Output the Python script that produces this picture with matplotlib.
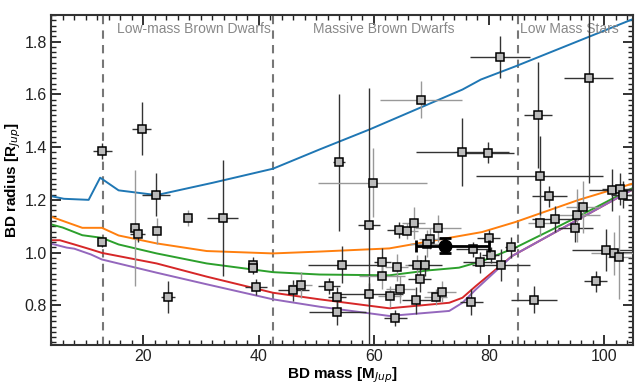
import numpy as np
import matplotlib
matplotlib.use("Agg")
import matplotlib.pyplot as plt
from matplotlib.ticker import MultipleLocator

plt.rcParams['font.family'] = ['Liberation Sans', 'DejaVu Sans']

# model isochrones (mass in M_Jup, radius in R_Jup)
blue_m = [4, 6.2, 10.5, 12.5, 15.7, 22.3, 32.1, 42.5, 50.6, 59.3, 75.4, 78.6, 84.6, 105]
blue_r = [1.214, 1.204, 1.20, 1.284, 1.236, 1.218, 1.265, 1.318, 1.391, 1.467, 1.618, 1.656, 1.706, 1.885]

orange_m = [4, 9.4, 12.8, 15.7, 22.3, 31.0, 42.5, 50.6, 62.7, 78.8, 84.6, 95.6, 105]
orange_r = [1.136, 1.094, 1.094, 1.065, 1.035, 1.006, 0.997, 1.004, 1.016, 1.078, 1.116, 1.20, 1.262]

green_m = [4, 6, 9.4, 12.8, 15.7, 22.3, 31.0, 42.5, 50.6, 62.7, 69.6, 74.8, 78.8, 84.6, 91.0, 95.6, 105]
green_r = [1.107, 1.095, 1.066, 1.056, 1.031, 0.997, 0.959, 0.926, 0.917, 0.914, 0.933, 0.943, 0.968, 1.019, 1.088, 1.138, 1.245]

red_m = [4, 5.5, 8, 10.9, 12.8, 22.3, 31.0, 42.5, 50.6, 62.7, 73.1, 75.4, 77.7, 84.0, 105]
red_r = [1.047, 1.047, 1.031, 1.012, 0.999, 0.959, 0.909, 0.848, 0.823, 0.789, 0.81, 0.829, 0.873, 0.987, 1.24]

purple_m = [4, 6.7, 8, 10.9, 12.8, 22.3, 31.0, 42.5, 50.6, 62.7, 73.1, 75.4, 77.7, 84.0, 105]
purple_r = [1.034, 1.019, 1.015, 0.993, 0.974, 0.924, 0.88, 0.823, 0.795, 0.76, 0.779, 0.81, 0.86, 0.987, 1.24]

# known transiting brown dwarfs / low-mass stars: mass, radius, errors, error-bar shade
bd_mass = [12.9, 19.7, 22.2, 18.5, 19.0, 12.9, 22.3, 24.3, 27.8, 33.8,
           39.1, 39.1, 39.6, 46.0, 47.3, 52.3, 53.6, 53.7, 54.5, 54.0,
           59.1, 59.8, 61.5, 61.5, 64.0, 64.3, 65.7, 66.9, 67.5, 68.9,
           68.0, 64.6, 62.8, 59.1, 67.4, 70.8, 71.8, 63.7, 69.8, 69.3,
           71.2, 77.3, 78.5, 80.0, 80.3, 82.1, 76.9, 83.8, 87.8, 88.8,
           91.4, 90.5, 95.0, 95.3, 96.3, 98.5, 100.4, 101.7, 102.6, 101.3,
           102.7, 103.2, 68.2, 75.4, 79.8, 81.9, 88.5, 88.8, 97.3]
bd_rad = [1.384, 1.470, 1.220, 1.092, 1.069, 1.041, 1.081, 0.833, 1.130, 1.130,
          0.955, 0.940, 0.869, 0.858, 0.877, 0.874, 0.830, 0.776, 0.955, 1.343,
          1.103, 1.265, 0.966, 0.911, 0.944, 1.085, 1.081, 1.112, 0.952, 0.952,
          0.899, 0.861, 0.835, 0.845, 0.819, 0.833, 0.852, 0.753, 1.053, 1.034,
          1.092, 1.012, 0.964, 1.054, 0.990, 0.952, 0.813, 1.021, 0.822, 1.113,
          1.127, 1.213, 1.092, 1.142, 1.173, 0.892, 1.010, 0.997, 0.983, 1.236,
          1.242, 1.220, 1.580, 1.381, 1.378, 1.742, 1.521, 1.292, 1.662]
bd_merr = [1.7, 1.6, 2.5, 0.8, 1.3, 0.5, 0.5, 1.2, 0.6, 2.7,
           0.5, 0.5, 1.9, 2.7, 2.0, 1.9, 1.5, 5.0, 6.0, 1.0,
           1.9, 9.4, 1.5, 4.0, 2.0, 2.0, 2.0, 2.0, 2.0, 3.0,
           2.0, 2.5, 2.0, 6.0, 2.5, 2.0, 2.5, 2.0, 2.0, 3.0,
           4.0, 3.0, 3.0, 2.0, 1.5, 5.0, 2.0, 1.0, 4.0, 2.0,
           4.0, 3.0, 3.0, 4.0, 3.0, 2.0, 6.0, 4.0, 2.0, 4.0,
           3.0, 2.0, 7.2, 8.0, 4.5, 5.2, 2.4, 11.0, 4.3]
bd_rerr = [0.03, 0.10, 0.08, 0.22, 0.03, 0.02, 0.05, 0.06, 0.03, 0.22,
           0.03, 0.02, 0.03, 0.04, 0.05, 0.03, 0.04, 0.05, 0.07, 0.26,
           0.52, 0.13, 0.05, 0.05, 0.05, 0.03, 0.03, 0.06, 0.04, 0.04,
           0.05, 0.05, 0.04, 0.04, 0.05, 0.03, 0.04, 0.03, 0.04, 0.05,
           0.05, 0.03, 0.04, 0.03, 0.03, 0.06, 0.05, 0.04, 0.05, 0.05,
           0.05, 0.04, 0.05, 0.10, 0.10, 0.04, 0.08, 0.08, 0.16, 0.08,
           0.06, 0.05, 0.07, 0.13, 0.04, 0.08, 0.20, 0.15, 0.40]
bd_shade = list("kkkgkkgkgk"
                "kkkkgkkkkk"
                "kgkggkgggk"
                "kggkkggkgg"
                "gkkkkkkkkg"
                "kkkggkkggk"
                "kkgkkkkkk")

# highlighted object
new_mass, new_rad = 72.4, 1.027
new_merr = [[5.1], [7.6]]
new_rerr = 0.03

# region boundaries and labels
bounds = [13, 42.5, 85]
region_x = [28.8, 61.8, 94.0]
region_txt = ["Low-mass Brown Dwarfs", "Massive Brown Dwarfs", "Low Mass Stars"]

fig = plt.figure(figsize=(6.4, 3.84), dpi=100)
ax = fig.add_axes([0.08, 0.1016, 0.909, 0.859])

for b in bounds:
    ax.axvline(b, color='#777777', ls='--', lw=1.5, dashes=(4, 3), zorder=1)
for x, t in zip(region_x, region_txt):
    ax.text(x, 1.848, t, ha='center', va='center', color='#888888', fontsize=10)

ax.plot(blue_m, blue_r, color='#1f77b4', lw=1.4, zorder=2)
ax.plot(orange_m, orange_r, color='#ff7f0e', lw=1.4, zorder=2)
ax.plot(green_m, green_r, color='#2ca02c', lw=1.4, zorder=2)
ax.plot(red_m, red_r, color='#d62728', lw=1.4, zorder=2)
ax.plot(purple_m, purple_r, color='#9467bd', lw=1.4, zorder=2)

shade_col = {'k': '#333333', 'g': '#999999'}
for m, r, me, re, s in zip(bd_mass, bd_rad, bd_merr, bd_rerr, bd_shade):
    ax.errorbar(m, r, xerr=me, yerr=re, fmt='s', ms=5.5, mfc='#bbbbbb', mec='k',
                mew=1.1, ecolor=shade_col[s], elinewidth=1.0, capsize=0, zorder=3)

ax.errorbar(new_mass, new_rad, xerr=new_merr, yerr=new_rerr, fmt='o', ms=9,
            color='k', elinewidth=2, capsize=4, capthick=2, zorder=5)

ax.set_xlim(4, 105)
ax.set_ylim(0.65, 1.9)
ax.xaxis.set_major_locator(MultipleLocator(20))
ax.xaxis.set_minor_locator(MultipleLocator(2))
ax.yaxis.set_major_locator(MultipleLocator(0.2))
ax.yaxis.set_minor_locator(MultipleLocator(0.02))
ax.tick_params(which='both', direction='in', top=True, right=True, colors='#222222',
               labelsize=11.5)
ax.tick_params(which='major', length=7, width=1.3, pad=3)
ax.tick_params(which='minor', length=3.5, width=1.0)
for sp in ax.spines.values():
    sp.set_linewidth(1.5)
    sp.set_color('#333333')

ax.set_xlabel(r"BD mass [M$_{Jup}$]", fontsize=11, fontweight='bold', labelpad=1)
ax.set_ylabel(r"BD radius [R$_{Jup}$]", fontsize=11, fontweight='bold', labelpad=1)

fig.savefig("out.png", dpi=100)
